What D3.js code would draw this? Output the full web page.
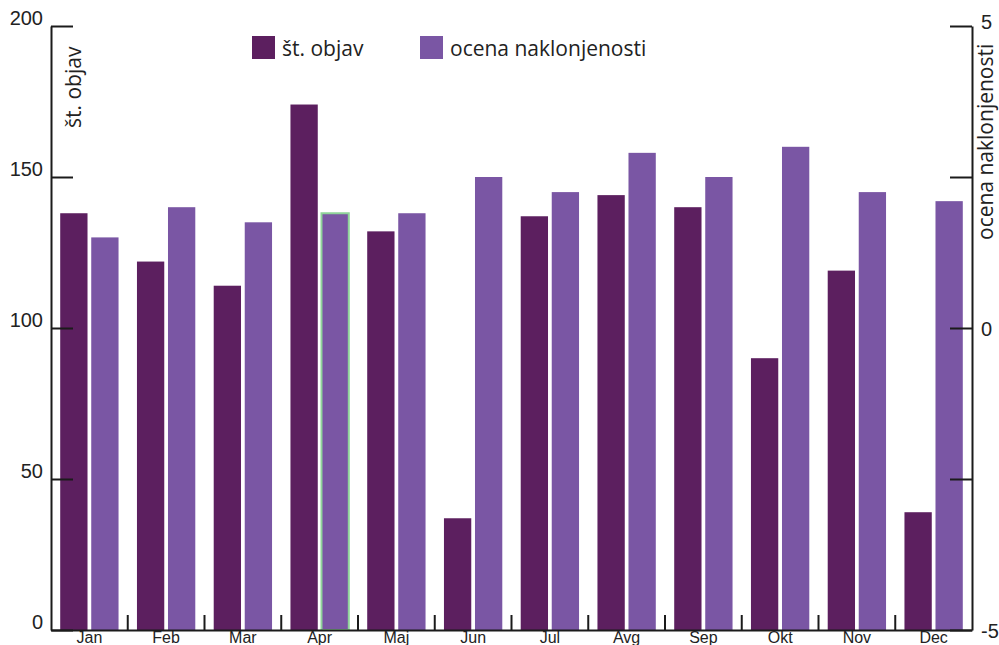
<!DOCTYPE html>
<html>
<head>
<meta charset="utf-8">
<script src="https://cdn.jsdelivr.net/npm/d3@7"></script>
<style>
    body { margin: 0; background: #fff; }
    svg { display: block; font-family: "Open Sans", sans-serif; }
    .axis path, .axis line { stroke: #1b1b1b; stroke-width: 2; }
    .axis text { fill: #222; font-size: 20px; }
</style>
</head>
<body>
<div id="chart"></div>
<script>

const months = ['Jan', 'Feb', 'Mar', 'Apr', 'Maj', 'Jun', 'Jul', 'Avg', 'Sep', 'Okt', 'Nov', 'Dec'];
const stObjav = [138, 122, 114, 174, 132, 37, 137, 144, 140, 90, 119, 39];
const ocena = [1.5, 2.0, 1.75, 1.9, 1.9, 2.5, 2.25, 2.9, 2.5, 3.0, 2.25, 2.1];
const leftTicks = [0, 50, 100, 150, 200];
const rightTicks = [-5, -2.5, 0, 2.5, 5];
const rightLabels = [-5, 0, 5];
const seriesNames = ['št. objav', 'ocena naklonjenosti'];

let width = 999,
    height = 645,
    colors = ['#5c1f5f', '#7a56a4'];

let svg = d3.select('#chart').append('svg')
    .attr('width', width)
    .attr('height', height);

let x0 = d3.scaleBand()
    .domain(months)
    .range([51, 972])
    .paddingInner(0.24)
    .paddingOuter(0.12);

let x1 = d3.scaleBand()
    .domain([0, 1])
    .range([0, x0.bandwidth()])
    .paddingInner(0.12);

let yL = d3.scaleLinear().domain([0, 200]).range([630, 26]);
let yR = d3.scaleLinear().domain([-5, 5]).range([630, 26]);

// bars
let groups = svg.append('g').selectAll('g')
    .data(months)
    .enter()
    .append('g')
    .attr('transform', function(d) { return 'translate(' + x0(d) + ',0)'; });

groups.append('rect')
    .attr('x', x1(0))
    .attr('width', x1.bandwidth())
    .attr('y', function(d, i) { return yL(stObjav[i]); })
    .attr('height', function(d, i) { return yL(0) - yL(stObjav[i]); })
    .style('fill', colors[0]);

groups.append('rect')
    .attr('x', x1(1))
    .attr('width', x1.bandwidth())
    .attr('y', function(d, i) { return yR(ocena[i]); })
    .attr('height', function(d, i) { return yR(-5) - yR(ocena[i]); })
    .style('fill', colors[1])
    // april bar has a green outline in the original
    .style('stroke', function(d) { return d == 'Apr' ? '#8fd39a' : 'none'; })
    .style('stroke-width', 2);

// left axis, ticks pointing inside
let leftAxis = svg.append('g')
    .classed('axis', true)
    .attr('transform', 'translate(51,0)')
    .call(d3.axisLeft(yL).tickValues(leftTicks).tickSize(-22).tickSizeOuter(0).tickPadding(8));
leftAxis.selectAll('text').attr('dy', '-0.1em');

// right axis
let rightAxis = svg.append('g')
    .classed('axis', true)
    .attr('transform', 'translate(972,0)')
    .call(d3.axisRight(yR).tickValues(rightTicks).tickSize(-22).tickSizeOuter(0).tickPadding(9)
        .tickFormat(function(d) { return rightLabels.indexOf(d) >= 0 ? String(d).replace('−', '-') : ''; }));
rightAxis.selectAll('text').attr('dy', function(d) { return d == 5 ? '0.1em' : '0.35em'; });

// bottom axis: labels under groups, ticks between groups
let bottomAxis = svg.append('g')
    .classed('axis', true)
    .attr('transform', 'translate(0,630)')
    .call(d3.axisBottom(x0).tickSize(0).tickPadding(0).tickSizeOuter(0));
bottomAxis.selectAll('text').attr('dy', '13px').style('font-size', '16px');

bottomAxis.selectAll('.sep')
    .data(months.slice(1))
    .enter()
    .append('line')
    .classed('sep', true)
    .attr('x1', function(d) { return x0(d) - x0.step() * x0.paddingInner() / 2; })
    .attr('x2', function(d) { return x0(d) - x0.step() * x0.paddingInner() / 2; })
    .attr('y1', 0)
    .attr('y2', -15);

// axis titles
svg.append('text')
    .attr('transform', 'translate(81,128) rotate(-90)')
    .style('font-size', '21px')
    .style('fill', '#222')
    .text(seriesNames[0]);

svg.append('text')
    .attr('transform', 'translate(993,240) rotate(-90)')
    .style('font-size', '21px')
    .style('fill', '#222')
    .text(seriesNames[1]);

// legend
let legend = svg.append('g').selectAll('g')
    .data(seriesNames)
    .enter()
    .append('g')
    .attr('transform', function(d, i) { return 'translate(' + [252, 420][i] + ',36)'; });

legend.append('rect')
    .attr('width', 23)
    .attr('height', 23)
    .style('fill', function(d, i) { return colors[i]; });

legend.append('text')
    .attr('x', 30)
    .attr('y', 20)
    .style('font-size', '21px')
    .style('fill', '#222')
    .text(function(d) { return d; });

</script>
</body>
</html>
